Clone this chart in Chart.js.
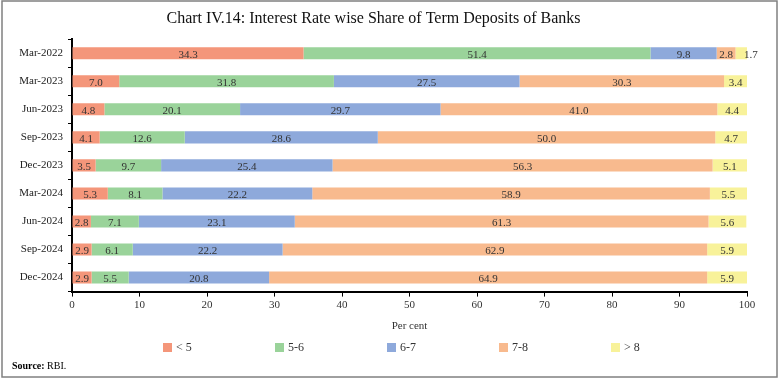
<!DOCTYPE html>
<html>
<head>
<meta charset="utf-8">
<script src="https://cdn.jsdelivr.net/npm/chart.js@4.4.1/dist/chart.umd.min.js"></script>
<style>
    html, body { margin: 0; padding: 0; background: #fff; }
    #wrap { width: 780px; height: 381px; position: relative; }
</style>
</head>
<body>
<div id="wrap"><canvas id="depositChart" width="780" height="381"></canvas></div>
<script>
// Datos
const periods = ['Mar-2022', 'Mar-2023', 'Jun-2023', 'Sep-2023', 'Dec-2023', 'Mar-2024', 'Jun-2024', 'Sep-2024', 'Dec-2024'];
const below5 = [34.3, 7.0, 4.8, 4.1, 3.5, 5.3, 2.8, 2.9, 2.9];
const rate5to6 = [51.4, 31.8, 20.1, 12.6, 9.7, 8.1, 7.1, 6.1, 5.5];
const rate6to7 = [9.8, 27.5, 29.7, 28.6, 25.4, 22.2, 23.1, 22.2, 20.8];
const rate7to8 = [2.8, 30.3, 41.0, 50.0, 56.3, 58.9, 61.3, 62.9, 64.9];
const above8 = [1.7, 3.4, 4.4, 4.7, 5.1, 5.5, 5.6, 5.9, 5.9];
const seriesNames = ['< 5', '5-6', '6-7', '7-8', '> 8'];
const xTicks = [0, 10, 20, 30, 40, 50, 60, 70, 80, 90, 100];

const colors = ['#F4967A', '#9AD39A', '#8EA9DB', '#F8BA8E', '#F8F29A'];
const serif = "'Liberation Serif', 'DejaVu Serif', serif";

// etiquetas de valor dentro de cada segmento
const valueLabels = {
    id: 'valueLabels',
    afterDatasetsDraw(chart) {
        const ctx = chart.ctx;
        ctx.save();
        ctx.font = '11px ' + serif;
        ctx.fillStyle = '#333';
        ctx.textBaseline = 'middle';
        chart.data.datasets.forEach((ds, i) => {
            chart.getDatasetMeta(i).data.forEach((bar, j) => {
                const txt = ds.data[j].toFixed(1);
                const w = ctx.measureText(txt).width;
                const segW = Math.abs(bar.x - bar.base);
                if (w + 2 > segW) {
                    ctx.textAlign = 'left';
                    ctx.fillText(txt, bar.x - 3, bar.y + 2);
                } else {
                    ctx.textAlign = 'center';
                    ctx.fillText(txt, (bar.x + bar.base) / 2, bar.y + 2);
                }
            });
        });
        ctx.restore();
    }
};

// leyenda, fuente y marco
const frameAndLegend = {
    id: 'frameAndLegend',
    beforeDraw(chart) {
        const ctx = chart.ctx;
        ctx.save();
        ctx.fillStyle = '#fff';
        ctx.fillRect(0, 0, chart.width, chart.height);
        ctx.restore();
    },
    afterDraw(chart) {
        const ctx = chart.ctx;
        ctx.save();
        // leyenda
        ctx.font = '12px ' + serif;
        ctx.textBaseline = 'middle';
        ctx.textAlign = 'left';
        chart.data.datasets.forEach((ds, i) => {
            const x = 163 + i * 112;
            ctx.fillStyle = ds.backgroundColor;
            ctx.fillRect(x, 343, 9, 9);
            ctx.fillStyle = '#333';
            ctx.fillText(ds.label, x + 13, 348);
        });
        // fuente
        ctx.fillStyle = '#000';
        ctx.font = 'bold 10px ' + serif;
        ctx.fillText('Source:', 12, 366);
        const sw = ctx.measureText('Source: ').width;
        ctx.font = '10px ' + serif;
        ctx.fillText('RBI.', 12 + sw, 366);
        // marco
        ctx.strokeStyle = '#808080';
        ctx.lineWidth = 1.5;
        ctx.strokeRect(2, 1, 775, 376);
        ctx.restore();
    }
};

const datasets = [below5, rate5to6, rate6to7, rate7to8, above8].map((vals, i) => ({
    label: seriesNames[i],
    data: vals,
    backgroundColor: colors[i],
    borderWidth: 0,
    categoryPercentage: 0.43,
    barPercentage: 1.0
}));

new Chart(document.getElementById('depositChart'), {
    type: 'bar',
    data: { labels: periods, datasets: datasets },
    options: {
        indexAxis: 'y',
        responsive: false,
        animation: false,
        layout: { padding: { left: 0, right: 33, top: 0, bottom: 44 } },
        plugins: {
            legend: { display: false },
            tooltip: { enabled: false },
            title: {
                display: true,
                text: 'Chart IV.14: Interest Rate wise Share of Term Deposits of Banks',
                color: '#111',
                font: { family: serif, size: 16, weight: 'normal' },
                padding: { top: 9, bottom: 11 }
            }
        },
        scales: {
            x: {
                stacked: true,
                min: 0,
                max: 100,
                afterBuildTicks: axis => { axis.ticks = xTicks.map(v => ({ value: v })); },
                grid: { drawOnChartArea: false, drawTicks: true, tickLength: 5, color: '#000' },
                border: { color: '#000', width: 2 },
                ticks: { color: '#333', padding: 2, font: { family: serif, size: 11 } },
                title: {
                    display: true,
                    text: 'Per cent',
                    color: '#333',
                    font: { family: serif, size: 11 },
                    padding: { top: 6, bottom: 4 }
                }
            },
            y: {
                stacked: true,
                afterFit: axis => { axis.width = 72; },
                grid: { drawOnChartArea: false, drawTicks: true, tickLength: 4, color: '#000', offset: true },
                border: { color: '#000', width: 2 },
                ticks: { color: '#222', padding: 5, font: { family: serif, size: 11 } }
            }
        }
    },
    plugins: [valueLabels, frameAndLegend]
});
</script>
</body>
</html>
